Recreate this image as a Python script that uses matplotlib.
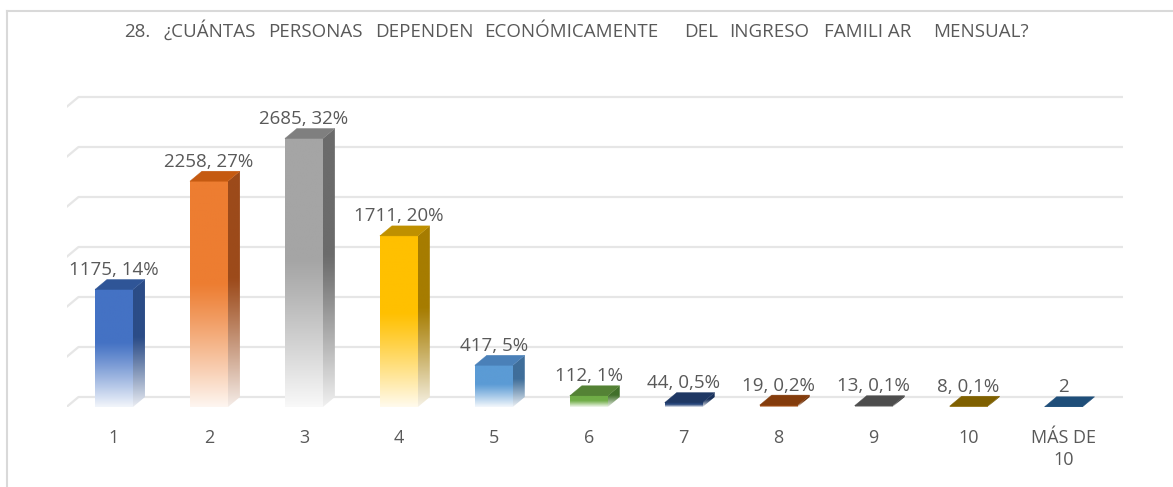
import numpy as np
import matplotlib
matplotlib.use("Agg")
import matplotlib.pyplot as plt
from matplotlib.patches import Polygon
from matplotlib.colors import to_rgb
from matplotlib.lines import Line2D

# ---- data ----
categories = ["1", "2", "3", "4", "5", "6", "7", "8", "9", "10", "MÁS DE\n10"]
counts = [1175, 2258, 2685, 1711, 417, 112, 44, 19, 13, 8, 2]
percents = ["14%", "27%", "32%", "20%", "5%", "1%", "0,5%", "0,2%", "0,1%", "0,1%", ""]
grid_values = [0, 500, 1000, 1500, 2000, 2500, 3000]
title_words = ["28.", "¿CUÁNTAS", "PERSONAS", "DEPENDEN", "ECONÓMICAMENTE",
               "DEL", "INGRESO", "FAMILI AR", "MENSUAL?"]

# ---- styles ----
front_colors = ["#4472C4", "#ED7D31", "#A5A5A5", "#FFC000", "#5B9BD5", "#70AD47",
                "#264478", "#9E480E", "#636363", "#997300", "#255E91"]
top_colors = ["#2F5597", "#C55A11", "#7F7F7F", "#BF9000", "#4A80B8", "#548235",
              "#1F3864", "#843C0C", "#4D4D4D", "#7F6000", "#1F4E79"]
side_colors = ["#2B4C87", "#9C4A1A", "#6B6B6B", "#A67C00", "#3F6E9A", "#41702A",
               "#18305A", "#6E320A", "#3A3A3A", "#665000", "#1A426A"]
title_x_px = [124, 164, 268, 375, 484, 684, 729, 824, 933]
text_color = "#595959"
font = "Open Sans"

W, H = 1173, 487
fig = plt.figure(figsize=(W / 100, H / 100), dpi=100)
fig.patch.set_facecolor("white")

ax_left, ax_right, ax_bot, ax_top = 66.5, 1123.0, 407.0, 87.0
ax = fig.add_axes([ax_left / W, (H - ax_bot) / H, (ax_right - ax_left) / W, (ax_bot - ax_top) / H])
dx = 12 / 95.0
dy = 100.0
bw = 0.40
ax.set_xlim(-0.5, len(categories) - 0.5 + dx)
ax.set_ylim(0, 3200)
for s in ax.spines.values():
    s.set_visible(False)
ax.set_yticks([])
ax.set_xticks(range(len(categories)))
ax.set_xticklabels(categories, fontsize=13, color=text_color, family=font, linespacing=1.25)
ax.tick_params(axis="x", length=0, pad=16)
ax.set_facecolor("none")

# back-wall gridlines with floor diagonal
x_end = len(categories) - 0.5 + dx
for g in grid_values:
    ax.plot([-0.5, -0.5 + dx, x_end], [g, g + dy, g + dy], color="#E6E6E6", lw=1.6,
            zorder=0, solid_capstyle="butt")


def gradient(color, n=256, start=0.45, strength=0.93):
    t = np.linspace(0, 1, n)
    f = np.clip((t - start) / (1 - start), 0, 1) ** 1.1 * strength
    rgb = np.array(to_rgb(color))
    img = rgb[None, :] * (1 - f[:, None]) + f[:, None]
    return img[:, None, :]


for i, (v, fc, tc, sc) in enumerate(zip(counts, front_colors, top_colors, side_colors)):
    x0, x1 = i - bw / 2, i + bw / 2
    # front face
    if v > 0:
        ax.imshow(gradient(fc), extent=(x0, x1, 0, v), origin="upper", aspect="auto",
                  interpolation="bilinear", zorder=2)
    # side face
    side = Polygon([(x1, 0), (x1 + dx, dy), (x1 + dx, v + dy), (x1, v)], closed=True,
                   facecolor="none", edgecolor="none", transform=ax.transData)
    ax.add_patch(side)
    im = ax.imshow(gradient(sc, start=0.45, strength=0.9), extent=(x1, x1 + dx, 0, v + dy),
                   origin="upper", aspect="auto", interpolation="bilinear", zorder=2)
    im.set_clip_path(side)
    # top face
    ax.add_patch(Polygon([(x0, v), (x0 + dx, v + dy), (x1 + dx, v + dy), (x1, v)], closed=True,
                         facecolor=tc, edgecolor=tc, lw=0.3, zorder=3))
    label = f"{v}, {percents[i]}" if percents[i] else f"{v}"
    ax.annotate(label, (i, v + dy), xytext=(0, 3.3), textcoords="offset points",
                ha="center", va="baseline", fontsize=13.5, color=text_color, family=font,
                zorder=5)

ax.set_xlim(-0.5, len(categories) - 0.5 + dx)
ax.set_ylim(0, 3200)

# title words
for wd, xp in zip(title_words, title_x_px):
    fig.text(xp / W, 1 - 37 / H, wd, ha="left", va="baseline", fontsize=13.5,
             color=text_color, family=font)

# chart border (left and top visible)
fig.add_artist(Line2D([7 / W, 7 / W], [0, 1 - 11 / H], color="#D9D9D9", lw=1.5,
                      transform=fig.transFigure))
fig.add_artist(Line2D([7 / W, 1], [1 - 11 / H, 1 - 11 / H], color="#D9D9D9", lw=1.5,
                      transform=fig.transFigure))

fig.savefig("out.png", dpi=100, facecolor="white")
